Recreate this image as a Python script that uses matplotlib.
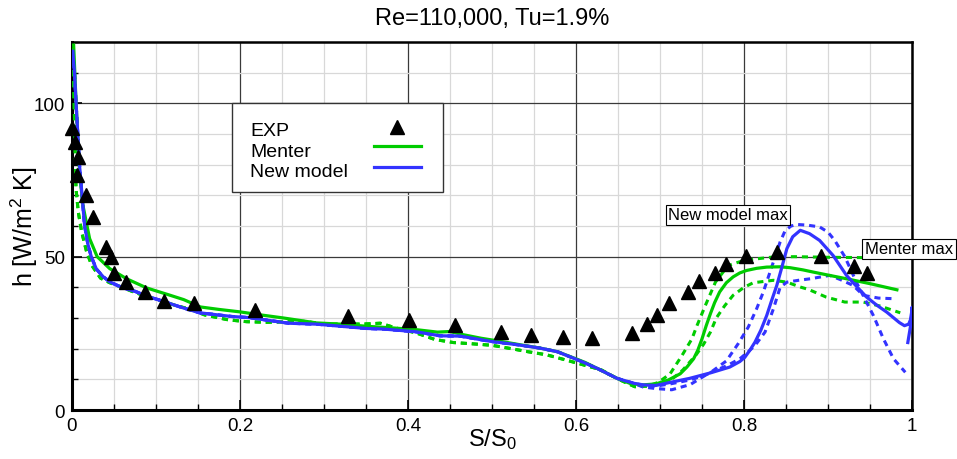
import numpy as np
import matplotlib
matplotlib.use("Agg")
import matplotlib.pyplot as plt
from matplotlib.patches import Rectangle
from matplotlib.ticker import MultipleLocator

plt.rcParams['font.family'] = ['Liberation Sans', 'DejaVu Sans']
plt.rcParams['mathtext.fontset'] = 'custom'
plt.rcParams['mathtext.rm'] = 'Liberation Sans'
plt.rcParams['mathtext.it'] = 'Liberation Sans:italic'

# measured heat transfer coefficient
exp_s = [0.0, 0.004, 0.007, 0.006, 0.017, 0.025, 0.041, 0.046, 0.050, 0.064, 0.087,
         0.109, 0.145, 0.218, 0.329, 0.401, 0.456, 0.511, 0.547, 0.584, 0.619, 0.667,
         0.685, 0.697, 0.711, 0.733, 0.746, 0.765, 0.779, 0.802, 0.839, 0.892, 0.931, 0.947]
exp_h = [91.8, 87.5, 82.6, 76.6, 70.0, 63.0, 53.2, 50.0, 44.8, 41.7, 38.5,
         35.6, 34.9, 32.5, 30.5, 29.4, 27.7, 25.5, 24.5, 23.9, 23.4, 25.1,
         27.9, 31.1, 35.0, 38.5, 42.1, 44.8, 47.5, 50.1, 51.4, 50.1, 47.0, 44.6]

# Menter model, reference case
menter_s = [0.002, 0.005, 0.009, 0.013, 0.021, 0.030, 0.045, 0.065, 0.089, 0.117, 0.133,
            0.153, 0.175, 0.200, 0.225, 0.252, 0.291, 0.320, 0.351, 0.380, 0.410, 0.435,
            0.450, 0.465, 0.487, 0.510, 0.533, 0.557, 0.578, 0.597, 0.611, 0.625, 0.649,
            0.665, 0.680, 0.695, 0.710, 0.724, 0.732, 0.740, 0.745, 0.750, 0.755, 0.760,
            0.765, 0.771, 0.779, 0.787, 0.795, 0.803, 0.815, 0.827, 0.843, 0.855, 0.870,
            0.882, 0.900, 0.922, 0.950, 0.982]
menter_h = [119.0, 99.5, 77.8, 66.8, 55.9, 50.0, 46.1, 42.8, 39.8, 37.4, 36.0,
            33.6, 32.8, 32.0, 31.0, 30.0, 28.4, 28.0, 27.3, 26.8, 26.2, 25.4,
            25.6, 24.6, 23.4, 22.4, 21.3, 20.2, 19.0, 17.0, 15.5, 13.6, 10.3,
            8.6, 8.2, 8.5, 9.8, 11.8, 14.0, 16.7, 19.5, 23.2, 27.5, 31.4,
            35.0, 38.5, 41.5, 43.4, 44.7, 45.5, 46.2, 46.6, 46.7, 46.4, 45.7,
            45.0, 44.0, 42.8, 41.2, 39.2]

# Menter model, bounding cases (common upstream part + two tails)
band_s = [0.001, 0.003, 0.0048, 0.0075, 0.0115, 0.0175, 0.0235, 0.034, 0.045, 0.057,
          0.075, 0.090, 0.121, 0.1425, 0.158, 0.186, 0.208, 0.232, 0.276, 0.304, 0.323,
          0.345, 0.367, 0.390, 0.409, 0.432, 0.454, 0.476, 0.500, 0.521, 0.543, 0.565,
          0.588, 0.609, 0.630, 0.650, 0.670]
band_h = [118.0, 95.0, 72.2, 64.6, 58.1, 51.5, 47.2, 43.0, 41.5, 40.3,
          38.3, 37.0, 34.3, 32.7, 31.0, 29.4, 28.8, 28.6, 28.9, 27.9, 28.1,
          28.0, 28.3, 26.4, 25.2, 23.0, 22.0, 21.6, 21.1, 20.1, 19.0, 18.0,
          16.3, 14.7, 13.1, 10.1, 7.6]
menter_hi_s = [0.685, 0.698, 0.712, 0.726, 0.738, 0.744, 0.754, 0.766, 0.781, 0.800,
               0.815, 0.835, 0.860, 0.900, 0.940, 0.975]
menter_hi_h = [7.8, 9.0, 11.8, 17.7, 23.2, 27.5, 34.1, 41.7, 47.1, 48.8,
               49.3, 49.9, 50.0, 49.8, 49.7, 49.7]
menter_lo_s = [0.685, 0.700, 0.714, 0.727, 0.743, 0.752, 0.760, 0.767, 0.777, 0.787,
               0.800, 0.811, 0.835, 0.851, 0.867, 0.877, 0.898, 0.920, 0.942, 0.962, 0.986]
menter_lo_h = [7.8, 8.5, 10.0, 13.0, 18.0, 21.5, 25.4, 30.0, 34.0, 37.4,
               40.0, 41.5, 42.3, 41.7, 40.1, 39.3, 36.8, 35.2, 35.2, 33.9, 31.7]

# new model, reference case
newm_s = [0.001, 0.003, 0.005, 0.009, 0.015, 0.019, 0.023, 0.029, 0.037, 0.045, 0.055,
          0.065, 0.075, 0.093, 0.107, 0.130, 0.152, 0.190, 0.212, 0.258, 0.291, 0.350,
          0.371, 0.410, 0.438, 0.462, 0.498, 0.530, 0.557, 0.578, 0.597, 0.612, 0.625,
          0.649, 0.669, 0.680, 0.695, 0.712, 0.735, 0.760, 0.783, 0.795, 0.801, 0.807,
          0.813, 0.820, 0.827, 0.833, 0.839, 0.845, 0.851, 0.858, 0.867, 0.878, 0.890,
          0.906, 0.922, 0.935, 0.946, 0.958, 0.970, 0.985, 0.991, 0.996, 0.999, 1.000,
          0.998, 0.995]
newm_h = [117.0, 110.0, 99.5, 79.8, 60.2, 54.0, 50.0, 46.0, 43.5, 41.8, 40.5,
          39.5, 38.7, 36.8, 35.6, 33.5, 31.7, 30.5, 30.1, 28.3, 28.0, 26.6,
          26.4, 25.5, 24.2, 24.1, 22.4, 21.3, 20.2, 19.0, 16.9, 15.2, 13.6,
          10.3, 8.7, 8.2, 8.0, 9.0, 10.3, 12.1, 14.0, 15.8, 17.2, 19.5,
          22.1, 26.0, 30.8, 35.8, 40.6, 46.5, 52.6, 56.5, 58.6, 57.5, 55.3,
          50.4, 43.9, 40.0, 36.8, 34.2, 31.9, 28.5, 27.5, 28.0, 30.0, 33.5,
          27.0, 22.0]

# new model, bounding cases (upstream part follows the reference curve)
newm_hi_s = [0.665, 0.680, 0.695, 0.712, 0.736, 0.758, 0.779, 0.793, 0.805, 0.815,
             0.823, 0.835, 0.843, 0.849, 0.856, 0.863, 0.875, 0.890, 0.900, 0.908,
             0.920, 0.935, 0.954, 0.966, 0.978, 0.992]
newm_hi_h = [9.0, 8.0, 7.8, 8.5, 9.8, 11.8, 16.0, 21.6, 27.0, 33.0,
             38.5, 48.3, 54.8, 58.5, 60.0, 60.5, 60.3, 59.7, 58.0, 55.3,
             50.0, 41.0, 30.8, 23.2, 16.7, 12.3]
newm_lo_s = [0.665, 0.680, 0.695, 0.714, 0.736, 0.758, 0.780, 0.795, 0.805, 0.813,
             0.825, 0.835, 0.843, 0.851, 0.865, 0.879, 0.902, 0.915, 0.930, 0.942,
             0.960, 0.978]
newm_lo_h = [9.0, 7.5, 7.0, 6.6, 8.3, 12.0, 14.5, 16.7, 19.0, 21.0,
             25.4, 33.0, 40.0, 41.7, 42.3, 42.8, 43.9, 42.5, 40.6, 37.4,
             36.5, 36.3]

green = '#00cc00'
blue = '#3333ff'
dash = (0, (2.0, 1.6))

fig = plt.figure(figsize=(9.57, 4.6), dpi=100)
ax = fig.add_axes([0.0752, 0.1065, 0.8778, 0.8])

n_base = newm_s.index(0.649) + 1
ax.plot(band_s + menter_hi_s, band_h + menter_hi_h, color=green, lw=2.2, ls=dash, zorder=3)
ax.plot(band_s + menter_lo_s, band_h + menter_lo_h, color=green, lw=2.2, ls=dash, zorder=3)
ax.plot(newm_s[:n_base] + newm_hi_s, newm_h[:n_base] + newm_hi_h, color=blue, lw=2.2, ls=dash, zorder=3)
ax.plot(newm_s[:n_base] + newm_lo_s, newm_h[:n_base] + newm_lo_h, color=blue, lw=2.2, ls=dash, zorder=3)
ax.plot(menter_s, menter_h, color=green, lw=2.3, zorder=4)
ax.plot(newm_s, newm_h, color=blue, lw=2.3, zorder=4)
ax.plot(exp_s, exp_h, ls='none', marker='^', ms=10.5, color='k', zorder=5, clip_on=False)

ax.set_xlim(0, 1)
ax.set_ylim(0, 120)
ax.xaxis.set_major_locator(MultipleLocator(0.2))
ax.xaxis.set_minor_locator(MultipleLocator(0.05))
ax.yaxis.set_major_locator(MultipleLocator(50))
ax.yaxis.set_minor_locator(MultipleLocator(10))
ax.set_xticks([0, 0.2, 0.4, 0.6, 0.8, 1.0])
ax.set_xticklabels(['0', '0.2', '0.4', '0.6', '0.8', '1'])
ax.set_yticks([0, 50, 100])
ax.set_yticklabels(['0', '50', '100'])
ax.grid(which='minor', color='#d8d8d8', lw=0.9, zorder=0)
ax.grid(which='major', color='#3a3a3a', lw=0.9, zorder=1)
ax.set_axisbelow(True)
ax.tick_params(which='both', direction='in', labelsize=13.5, top=False, right=False)
ax.tick_params(which='major', length=7, width=1.2, pad=5)
ax.tick_params(which='minor', length=4, width=1.0)
for side in ['left', 'bottom']:
    ax.spines[side].set_linewidth(2.2)
for side in ['top', 'right']:
    ax.spines[side].set_linewidth(1.8)

ax.set_xlabel('S/S$_0$', fontsize=17)
ax.xaxis.set_label_coords(0.5, -0.043)
ax.set_ylabel('h [W/m$^2$ K]', fontsize=18)
ax.yaxis.set_label_coords(-0.038, 0.5)
ax.set_title('Re=110,000, Tu=1.9%', fontsize=17, pad=13)

# legend drawn by hand: labels on the left, symbols on the right
ax.add_patch(Rectangle((0.1905, 0.5924), 0.2512, 0.2418, transform=ax.transAxes,
                       fc='white', ec='#333333', lw=1.0, zorder=6))
leg_y = [0.7481, 0.6910, 0.6367]
for lab, y in zip(['EXP', 'Menter', 'New model'], leg_y):
    ax.text(0.2119, y, lab, transform=ax.transAxes, fontsize=14, va='baseline', zorder=7)
ax.plot([0.3869], [0.7682], transform=ax.transAxes, marker='^', ms=10.5, color='k', zorder=7)
ax.plot([0.3595, 0.4155], [0.7166, 0.7166], transform=ax.transAxes, color=green, lw=2.3, zorder=7)
ax.plot([0.3595, 0.4155], [0.6603, 0.6603], transform=ax.transAxes, color=blue, lw=2.3, zorder=7)

box = dict(boxstyle='square,pad=0.15', fc='white', ec='black', lw=0.8)
ax.text(0.781, 63.6, 'New model max', fontsize=12, ha='center', va='center', bbox=box, zorder=8)
ax.text(0.9964, 52.6, 'Menter max', fontsize=12, ha='center', va='center', bbox=box,
        zorder=8, clip_on=False)

fig.savefig('out.png', dpi=100)
